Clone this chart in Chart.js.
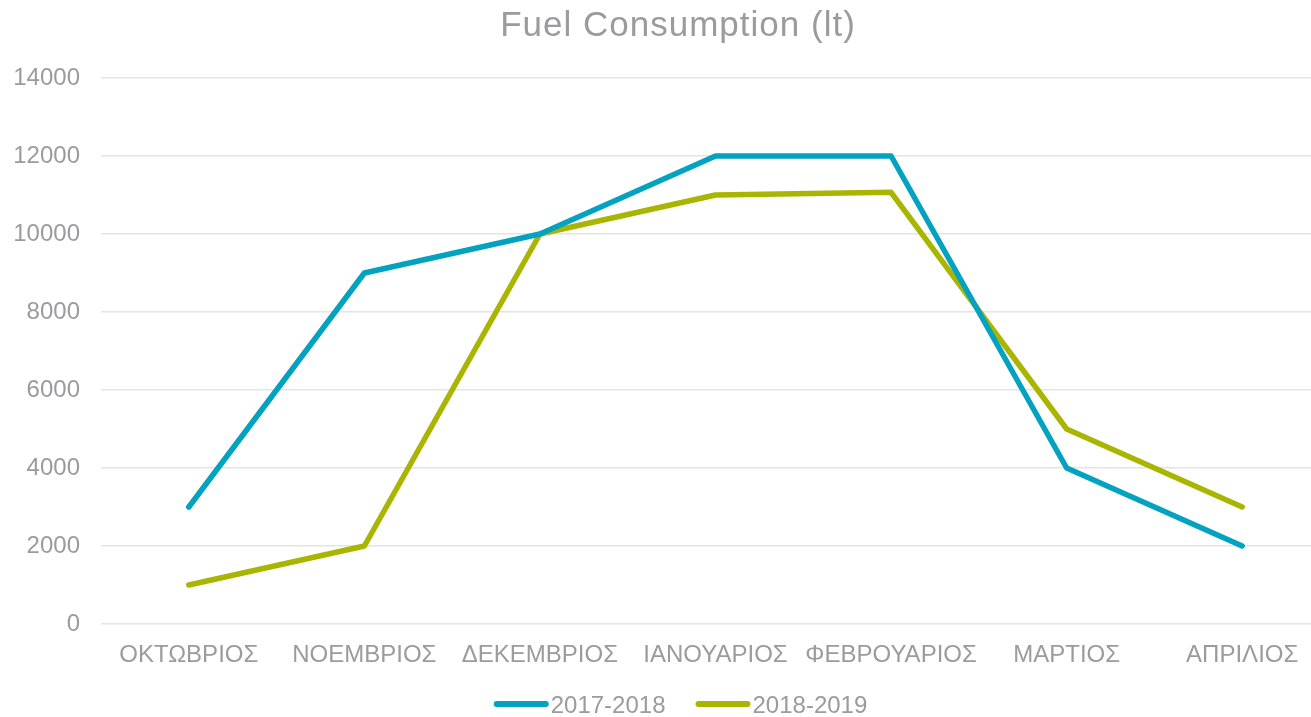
<!DOCTYPE html>
<html><head><meta charset="utf-8">
<script src="https://cdn.jsdelivr.net/npm/chart.js@4"></script>
<style>html,body{margin:0;padding:0;overflow:hidden;background:#fff;width:1311px;height:717px}
#wrap{position:absolute;left:0;top:0;width:1330px;height:717px}</style>
</head><body><div id="wrap"><canvas id="c" width="1330" height="717"></canvas></div>
<script>
const categories = ['ΟΚΤΩΒΡΙΟΣ','ΝΟΕΜΒΡΙΟΣ','ΔΕΚΕΜΒΡΙΟΣ','ΙΑΝΟΥΑΡΙΟΣ','ΦΕΒΡΟΥΑΡΙΟΣ','ΜΑΡΤΙΟΣ','ΑΠΡΙΛΙΟΣ'];
const series2017 = [3000, 9000, 10000, 12000, 12000, 4000, 2000];
const series2018 = [1000, 2000, 10000, 11000, 11070, 5000, 3000];
const seriesNames = ['2017-2018','2018-2019'];
const yTicks = [0,2000,4000,6000,8000,10000,12000,14000];
const titleText = 'Fuel Consumption (lt)';
const gray = '#9B9B9F';
const font = "'Liberation Sans', Arial, sans-serif";

const titleLegendPlugin = {
  id: 'titleLegend',
  afterDraw(chart) {
    const ctx = chart.ctx;
    ctx.save();
    // title
    ctx.font = `35px ${font}`;
    ctx.fillStyle = gray;
    ctx.textAlign = 'center';
    ctx.textBaseline = 'alphabetic';
    try { ctx.letterSpacing = '1px'; } catch (e) {}
    ctx.fillText(titleText, 678, 36);
    try { ctx.letterSpacing = '0px'; } catch (e) {}
    // legend
    ctx.font = `24px ${font}`;
    ctx.textAlign = 'left';
    ctx.textBaseline = 'middle';
    const lineW = 55, gapText = 2, gapItem = 30, y = 705;
    const items = chart.data.datasets.map(d => ({label: d.label, color: d.borderColor, w: ctx.measureText(d.label).width}));
    const total = items.reduce((s, it) => s + lineW + gapText + it.w, 0) + gapItem * (items.length - 1);
    let x = 680.5 - total / 2;
    items.forEach(it => {
      ctx.strokeStyle = it.color;
      ctx.lineWidth = 6;
      ctx.lineCap = 'round';
      ctx.beginPath();
      ctx.moveTo(x + 3, y - 1);
      ctx.lineTo(x + lineW - 3, y - 1);
      ctx.stroke();
      ctx.fillStyle = gray;
      ctx.fillText(it.label, x + lineW + gapText, y + 1);
      x += lineW + gapText + it.w + gapItem;
    });
    ctx.restore();
  }
};

new Chart(document.getElementById('c'), {
  type: 'line',
  data: {
    labels: categories,
    datasets: [
      {label: seriesNames[0], data: series2017, borderColor: '#04A2C1', backgroundColor: '#04A2C1', borderWidth: 5.5, pointRadius: 0, tension: 0, borderCapStyle: 'round', borderJoinStyle: 'round'},
      {label: seriesNames[1], data: series2018, borderColor: '#A9B500', backgroundColor: '#A9B500', borderWidth: 5.5, pointRadius: 0, tension: 0, borderCapStyle: 'round', borderJoinStyle: 'round'}
    ]
  },
  plugins: [titleLegendPlugin],
  options: {
    responsive: false, animation: false,
    layout: {padding: {left: 0, right: 0, top: 78, bottom: 53}},
    plugins: {
      title: {display: false},
      legend: {display: false},
      tooltip: {enabled: false}
    },
    scales: {
      x: {offset: true, grid: {display: false, drawTicks: false}, border: {display: false},
          afterFit: s => { s.height = 40; },
          ticks: {color: gray, font: {family: font, size: 24}, padding: 17, maxRotation: 0, autoSkip: false}},
      y: {min: 0, max: 14000, afterFit: s => { s.width = 101; },
          afterBuildTicks: s => { s.ticks = yTicks.map(v => ({value: v})); },
          grid: {color: '#E4E4E4', lineWidth: 1.5, drawTicks: false}, border: {display: false},
          ticks: {color: gray, font: {family: font, size: 24}, padding: 21, callback: v => String(v)}}
    }
  }
});
</script></body></html>
